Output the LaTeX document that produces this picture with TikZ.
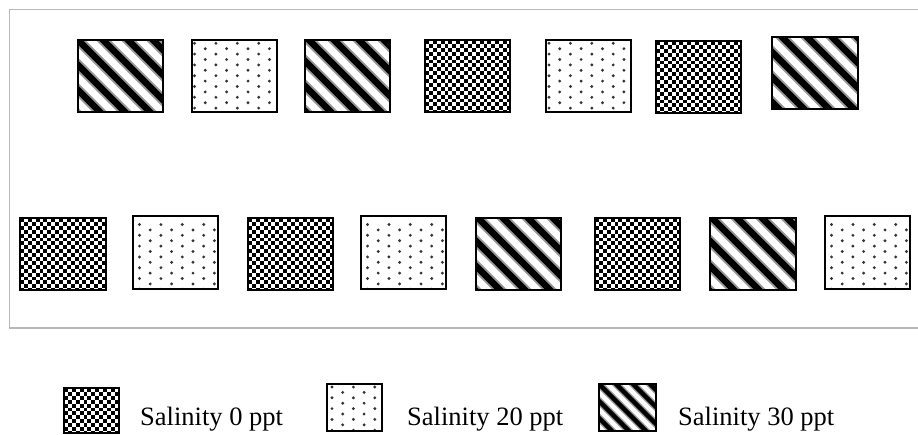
\documentclass[tikz,border=0pt]{standalone}
\usepackage{fontspec}
\setmainfont{Liberation Serif}
\tikzset{
  box/.style={draw=black, line width=1.2pt, inner sep=0pt, outer sep=0pt},
  lbl/.style={anchor=base west, inner sep=0pt, font=\fontsize{26.5}{30}\selectfont},
  frame/.style={draw=black!28, line width=1.5pt},
  chkcell/.style={fill=black},
  dot/.style={fill=black!80},
  stphalo/.style={draw=black!40},
  stpcore/.style={draw=black}
}
\newcommand\chkpat{%
  \foreach \i in {0,...,23}{
    \foreach \j in {0,2,...,20}{
      \pgfmathsetmacro\yy{(\j+mod(\i,2))*3.9}
      \path[chkcell] ({\i*3.9},\yy) rectangle +(3.9,3.9);
    }}}
\newcommand\stppat[3]{%
  \foreach \k in {-6,...,7}{
    \path[stphalo, line width=#3*1.6pt] ({\k*#1+#2-100},-100) -- ({\k*#1+#2+100},100);
    \path[stpcore, line width=#3*1pt] ({\k*#1+#2-100},-100) -- ({\k*#1+#2+100},100);
  }}
\newcommand\dtspat[2]{%
  \foreach \i in {0,...,8}{
    \foreach \j in {0,...,7}{
      \pgfmathsetmacro\yy{#2+\j*10.8+mod(\i,2)*5.4}
      \path[dot] ({#1+\i*10.7},\yy) circle (1.6pt);
    }}}
\newcommand\pbox[6]{%
  \begin{scope}
    \clip (#3,#4) rectangle (#5,#6);
    \begin{scope}[shift={(#3,#4)}]
      #2
    \end{scope}
  \end{scope}
  \pgfmathsetmacro\cx{(#3+#5)/2}\pgfmathsetmacro\cy{(#4+#6)/2}%
  \pgfmathsetmacro\ww{#5-#3}\pgfmathsetmacro\hh{#6-#4}%
  \node[box, minimum width=\ww pt, minimum height=\hh pt] (#1) at (\cx,\cy) {};}
\begin{document}
\begin{tikzpicture}[x=1pt,y=-1pt]
\useasboundingbox (0,0) rectangle (918,434);
\coordinate (f1) at (920,9.5);
\coordinate (f2) at (9.5,9.5);
\coordinate (f3) at (9.5,328);
\coordinate (f4) at (920,328);
\draw[frame] (f1) -- (f2) -- (f3) -- (f4);
% top row
\pbox{t1}{\stppat{25}{0}{6.5}}{78}{40}{163}{112}
\pbox{t2}{\dtspat{2.5}{3.3}}{192}{40}{277}{112}
\pbox{t3}{\stppat{25}{4}{6.5}}{305}{40}{390}{112}
\pbox{t4}{\chkpat}{425}{40}{510}{112}
\pbox{t5}{\dtspat{3}{3.3}}{546}{40}{631}{112}
\pbox{t6}{\chkpat}{656}{41}{741}{113}
\pbox{t7}{\stppat{25}{10}{6.5}}{772}{37}{858}{109}
% bottom row
\pbox{b1}{\chkpat}{20}{218}{106}{290}
\pbox{b2}{\dtspat{6.5}{8.5}}{133}{216}{218}{289}
\pbox{b3}{\chkpat}{248}{218}{333}{290}
\pbox{b4}{\dtspat{6.5}{8.5}}{361}{216}{446}{289}
\pbox{b5}{\stppat{25}{2}{6.5}}{476}{218}{561}{290}
\pbox{b6}{\chkpat}{595}{218}{680}{290}
\pbox{b7}{\stppat{25}{2}{6.5}}{710}{218}{796}{290}
\pbox{b8}{\dtspat{6.5}{8.5}}{825}{216}{910}{289}
% legend
\pbox{l1}{\chkpat}{64}{388}{119}{433}
\node[lbl] (s1) at (140,425) {Salinity 0 ppt};
\pbox{l2}{\dtspat{5}{3}}{327}{384}{382}{431}
\node[lbl] (s2) at (407,425) {Salinity 20 ppt};
\pbox{l3}{\stppat{17}{0}{4.5}}{599}{384}{656}{431}
\node[lbl] (s3) at (678,425) {Salinity 30 ppt};
\end{tikzpicture}
\end{document}
